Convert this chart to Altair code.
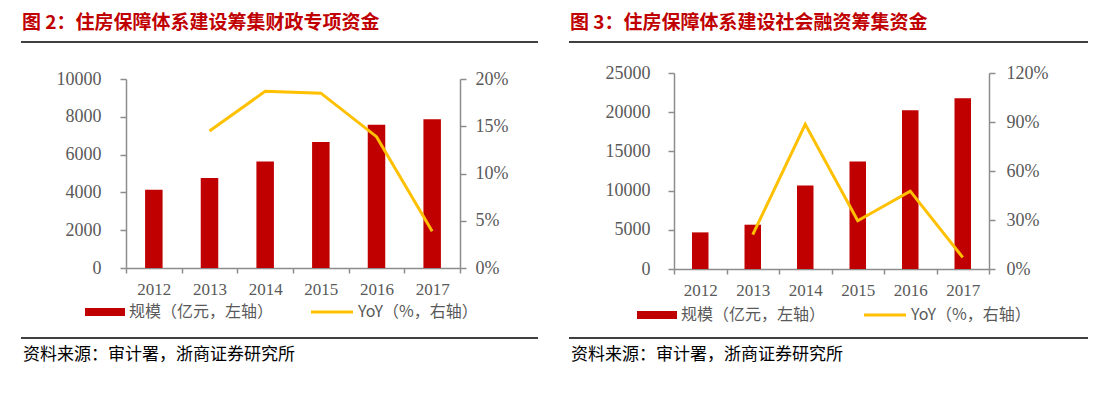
import altair as alt
import pandas as pd

years = ["2012", "2013", "2014", "2015", "2016", "2017"]
fiscal_amount = [4140, 4760, 5630, 6670, 7580, 7870]
fiscal_yoy = [None, 14.5, 18.7, 18.5, 13.9, 3.9]
social_amount = [4670, 5650, 10650, 13710, 20250, 21770]
social_yoy = [None, 21.0, 88.6, 29.5, 47.7, 7.1]

left_amount_ticks = [0, 2000, 4000, 6000, 8000, 10000]
left_pct_ticks = [0, 5, 10, 15, 20]
right_amount_ticks = [0, 5000, 10000, 15000, 20000, 25000]
right_pct_ticks = [0, 30, 60, 90, 120]

title_left = "图 2：住房保障体系建设筹集财政专项资金"
title_right = "图 3：住房保障体系建设社会融资筹集资金"
legend_bar = "规模（亿元，左轴）"
legend_line = "YoY（%，右轴）"
source_text = "资料来源：审计署，浙商证券研究所"

RED = "#C00000"
GOLD = "#FFC000"
AXIS_GRAY = "#8C8C8C"
LABEL_GRAY = "#595959"
SERIF = "Liberation Serif"
CJK = "Noto Sans CJK SC"


def one(text):
    return pd.DataFrame({"t": [text]})


def panel(amount, yoy, amt_ticks, pct_ticks, title, w, h, top_gap, bar_size, L):
    df = pd.DataFrame({"year": years, "amount": amount, "yoy": yoy})
    yrange = [h, top_gap]
    x = alt.X(
        "year:N", title=None, sort=years,
        scale=alt.Scale(paddingInner=0, paddingOuter=0),
        axis=alt.Axis(tickBand="extent", labelAngle=0, labelFont=SERIF, labelFontSize=17,
                      labelColor=LABEL_GRAY, labelBaseline="middle", labelPadding=16,
                      tickSize=5, domainColor=AXIS_GRAY, tickColor=AXIS_GRAY,
                      domainWidth=1.5, tickWidth=1.5, grid=False),
    )
    bars = alt.Chart(df).mark_bar(color=RED, size=bar_size).encode(
        x=x,
        y=alt.Y("amount:Q", title=None,
                scale=alt.Scale(domain=[amt_ticks[0], amt_ticks[-1]], nice=False, range=yrange),
                axis=alt.Axis(values=amt_ticks, orient="left", format="d", labelFont=SERIF,
                              labelFontSize=18, labelColor=LABEL_GRAY, labelBaseline="middle",
                              labelPadding=L["lpad"], tickSize=6, grid=False,
                              domainColor=AXIS_GRAY, tickColor=AXIS_GRAY,
                              domainWidth=1.5, tickWidth=1.5)),
    )
    line = alt.Chart(df).mark_line(color=GOLD, strokeWidth=3).encode(
        x=x,
        y=alt.Y("yoy:Q", title=None,
                scale=alt.Scale(domain=[0, pct_ticks[-1]], nice=False, range=yrange),
                axis=alt.Axis(values=pct_ticks, orient="right", labelExpr="datum.value + '%'",
                              labelFont=SERIF, labelFontSize=18, labelColor=LABEL_GRAY,
                              labelBaseline="middle", labelPadding=L["rpad"], tickSize=6,
                              grid=False, domainColor=AXIS_GRAY, tickColor=AXIS_GRAY,
                              domainWidth=1.5, tickWidth=1.5)),
    )
    title_mark = alt.Chart(one(title)).mark_text(
        align="left", baseline="middle", font=CJK, fontSize=19, fontWeight="bold", color=RED
    ).encode(x=alt.value(L["tx"]), y=alt.value(L["ty"]), text="t:N")
    top_rule = alt.Chart(one("a")).mark_rule(color="black", strokeWidth=1.5).encode(
        x=alt.value(L["x0"]), x2=alt.value(L["x1"]), y=alt.value(L["top"]))
    bottom_rule = alt.Chart(one("b")).mark_rule(color="black", strokeWidth=1.5).encode(
        x=alt.value(L["x0"]), x2=alt.value(L["x1"]), y=alt.value(L["bottom"]))
    leg_rect = alt.Chart(one("r")).mark_rect(color=RED).encode(
        x=alt.value(L["rx0"]), x2=alt.value(L["rx0"] + 40),
        y=alt.value(L["ry"] - 4), y2=alt.value(L["ry"] + 4))
    leg_rect_text = alt.Chart(one(legend_bar)).mark_text(
        align="left", baseline="middle", font=CJK, fontSize=16, color=LABEL_GRAY
    ).encode(x=alt.value(L["rx0"] + 44), y=alt.value(L["ry"]), text="t:N")
    leg_line = alt.Chart(one("l")).mark_rule(color=GOLD, strokeWidth=3).encode(
        x=alt.value(L["lx0"]), x2=alt.value(L["lx0"] + 42), y=alt.value(L["ly"]))
    leg_line_text = alt.Chart(one(legend_line)).mark_text(
        align="left", baseline="middle", font=CJK, fontSize=16, color=LABEL_GRAY
    ).encode(x=alt.value(L["lx0"] + 47), y=alt.value(L["ly"]), text="t:N")
    src = alt.Chart(one(source_text)).mark_text(
        align="left", baseline="middle", font=CJK, fontSize=17, color="black"
    ).encode(x=alt.value(L["sx"]), y=alt.value(L["sy"]), text="t:N")

    return alt.layer(
        bars, line, title_mark, top_rule, bottom_rule, leg_rect, leg_rect_text,
        leg_line, leg_line_text, src
    ).resolve_scale(y="independent").properties(width=w, height=h)


left = panel(
    fiscal_amount, fiscal_yoy, left_amount_ticks, left_pct_ticks, title_left,
    334, 195, 6, 17.5,
    dict(lpad=19, rpad=9, tx=-104, ty=-50, x0=-105, x1=412, top=-31, bottom=265,
         rx0=-41, ry=239, lx0=185, ly=239, sx=-103, sy=282),
)
right = panel(
    social_amount, social_yoy, right_amount_ticks, right_pct_ticks, title_right,
    315, 196, 0, 16.5,
    dict(lpad=18, rpad=11, tx=-104, ty=-50, x0=-105, x1=414, top=-31, bottom=265,
         rx0=-37, ry=242, lx0=190, ly=242, sx=-103, sy=282),
)

chart = alt.hconcat(left, right, spacing=29).configure_view(stroke=None).properties(
    padding={"left": 12, "top": 6, "right": 5, "bottom": 5}
)

chart.save("out.html", embed_options={"renderer": "svg", "actions": False})
